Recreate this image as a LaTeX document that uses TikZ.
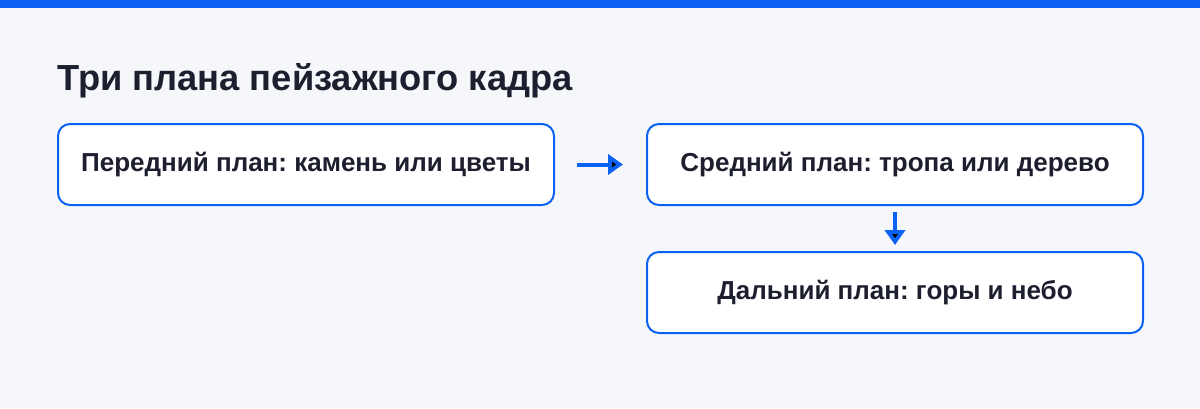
\documentclass[tikz,border=0pt]{standalone}
\usepackage{fontspec}
\setmainfont{Liberation Sans}
\usepackage{xcolor}
\usetikzlibrary{arrows.meta, positioning}
\frenchspacing

\definecolor{planblue}{HTML}{0A61F2}
\definecolor{planink}{HTML}{1D1F2E}
\definecolor{planback}{HTML}{F5F7FB}

\begin{document}
\begin{tikzpicture} [x = 1pt, y = -1pt, node distance = 91pt, font=\bfseries,
	plan/.style = {draw = planblue, line width = 2pt, rounded corners = 12pt, fill = white,
	minimum width = 496pt, minimum height = 81pt, text = planink, font = \fontsize{26}{30}\selectfont\bfseries},
	step arrow/.style = {-{Triangle[length = 15pt, width = 20pt]}, draw = planblue, line width = 4pt}]
			% Background and top bar
			\fill [planback] (0,0) rectangle (1200,408);
			\fill [planblue] (0,0) rectangle (1200,8);
			\useasboundingbox (0,0) rectangle (1200,408);
			% Title
			\node (title) [anchor = base west, inner sep = 0pt, text = planink, font = \fontsize{36.3}{42}\selectfont\bfseries]
			at (57,90) {Три плана пейзажного кадра};
			% Foreground box : other boxes are placed from this one
			\node (fore) [plan, anchor = north west] at (57,123) {Передний план: камень или цветы};
			% Middle and far boxes
			\node (middle) [plan, right = of fore] {Средний план: тропа или дерево};
			\node (far) [plan, below = 45pt of middle] {Дальний план: горы и небо};
			% Arrows
			\path [step arrow]
			(fore) edge [shorten < = 22pt, shorten > = 23pt] (middle)
			(middle) edge [shorten < = 6pt, shorten > = 6pt] (far);
		\end{tikzpicture}
\end{document}
